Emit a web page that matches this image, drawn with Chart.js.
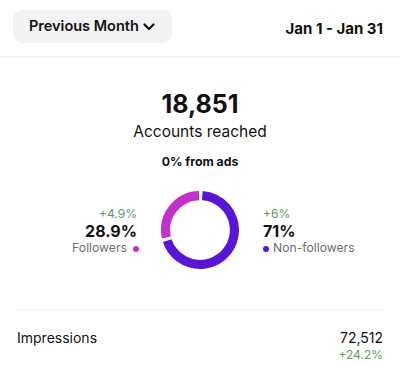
<!DOCTYPE html>
<html><head><meta charset="utf-8">
<script src="https://cdn.jsdelivr.net/npm/chart.js@4.4.1/dist/chart.umd.min.js"></script>
<style>
html,body{margin:0;padding:0;background:#fff;}
body{width:400px;height:389px;position:relative;overflow:hidden;font-family:Inter,"Open Sans",sans-serif;color:#111;}
.t{position:absolute;white-space:nowrap;line-height:1;}
.btn{position:absolute;left:13px;top:10px;width:159px;height:33px;background:#f1f2f4;border-radius:9px;}
.sep1{position:absolute;left:0;top:56px;width:400px;height:2px;background:#f4f4f4;}
.sep2{position:absolute;left:16px;top:309px;width:368px;height:1px;background:#f3f3f3;}
.green{color:#5b9a68;}
.grey{color:#6e6e6e;}
.dot{position:absolute;width:6px;height:6px;border-radius:50%;}
#donutBox{position:absolute;left:161px;top:191px;width:78px;height:78px;}
</style>
</head>
<body>
<div class="btn"></div>
<div class="t" id="period" style="left:29px;top:18.7px;font-size:14.5px;font-weight:600;"></div>
<svg style="position:absolute;left:142px;top:21px" width="14" height="12"><polyline points="2.5,3.5 7,8 11.5,3.5" fill="none" stroke="#111" stroke-width="2.2" stroke-linecap="round" stroke-linejoin="round"/></svg>
<div class="t" id="range" style="right:17px;top:20.6px;font-size:15px;font-weight:700;"></div>
<div class="sep1"></div>

<div class="t" id="reach" style="left:0;width:400px;text-align:center;top:91.6px;font-size:25px;font-weight:700;"></div>
<div class="t" id="reachLabel" style="left:0;width:400px;text-align:center;top:123.6px;font-size:15.5px;"></div>
<div class="t" id="ads" style="left:0;width:400px;text-align:center;top:156px;font-size:12.3px;font-weight:700;"></div>

<div class="t green" id="lChange" style="right:263px;top:207.9px;font-size:12px;"></div>
<div class="t" id="lValue" style="right:263px;top:222.8px;font-size:16px;font-weight:700;"></div>
<div class="t grey" id="lLabel" style="right:273px;top:242.3px;font-size:12.2px;"></div>
<div class="dot" id="lDot" style="left:132.5px;top:246px;"></div>

<div class="t green" id="rChange" style="left:263px;top:207.9px;font-size:12px;"></div>
<div class="t" id="rValue" style="left:263px;top:222.8px;font-size:16px;font-weight:700;"></div>
<div class="dot" id="rDot" style="left:262.5px;top:246px;"></div>
<div class="t grey" id="rLabel" style="left:273px;top:242.3px;font-size:12.2px;"></div>

<div id="donutBox"><canvas id="donut" width="78" height="78"></canvas></div>

<div class="sep2"></div>
<div class="t" id="impLabel" style="left:17px;top:331.1px;font-size:14px;"></div>
<div class="t" id="impValue" style="right:17px;top:331.1px;font-size:14px;"></div>
<div class="t green" id="impChange" style="right:17px;top:348.6px;font-size:12px;"></div>

<script>
// ---- data ----
const headerTexts = ['Previous Month', 'Jan 1 - Jan 31'];
const reachTexts = ['18,851', 'Accounts reached', '0% from ads'];
const categories = ['Non-followers', 'Followers'];
const shares = [71, 28.9];
const shareLabels = ['71%', '28.9%'];
const shareChanges = ['+6%', '+4.9%'];
const seriesColors = ['#5815d6', '#c232c8'];
const impressionTexts = ['Impressions', '72,512', '+24.2%'];

// ---- text ----
const set = (id, s) => document.getElementById(id).textContent = s;
set('period', headerTexts[0]);
set('range', headerTexts[1]);
set('reach', reachTexts[0]);
set('reachLabel', reachTexts[1]);
set('ads', reachTexts[2]);
set('rChange', shareChanges[0]);
set('rValue', shareLabels[0]);
set('rLabel', categories[0]);
set('lChange', shareChanges[1]);
set('lValue', shareLabels[1]);
set('lLabel', categories[1]);
document.getElementById('rDot').style.background = seriesColors[0];
document.getElementById('lDot').style.background = seriesColors[1];
set('impLabel', impressionTexts[0]);
set('impValue', impressionTexts[1]);
set('impChange', impressionTexts[2]);

// ---- chart ----
new Chart(document.getElementById('donut'), {
  type: 'doughnut',
  data: {
    labels: categories,
    datasets: [{
      data: shares,
      backgroundColor: seriesColors,
      borderWidth: 0,
      spacing: 2
    }]
  },
  options: {
    responsive: false,
    animation: false,
    cutout: '76%',
    rotation: 0,
    layout: { padding: 0 },
    plugins: { legend: { display: false }, tooltip: { enabled: false } }
  }
});
</script>
</body></html>
